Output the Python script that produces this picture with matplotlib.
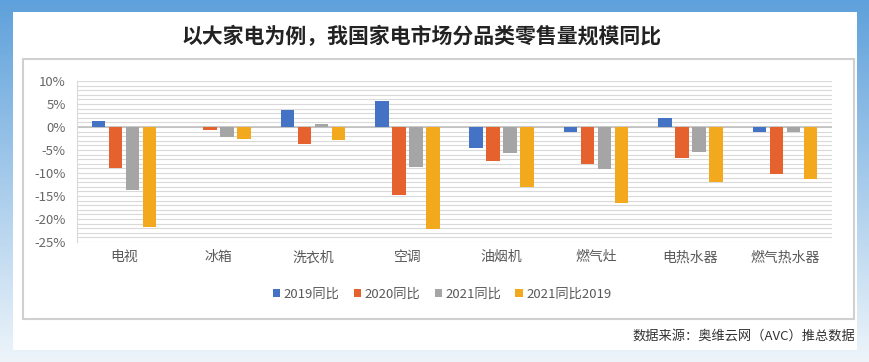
import numpy as np
import matplotlib.pyplot as plt
from matplotlib.patches import Rectangle
from matplotlib.ticker import MultipleLocator, FuncFormatter

plt.rcParams['font.family'] = ['Noto Sans CJK SC', 'DejaVu Sans']

# 数据（单位：%）
categories = ["电视", "冰箱", "洗衣机", "空调", "油烟机", "燃气灶", "电热水器", "燃气热水器"]
series_names = ["2019同比", "2020同比", "2021同比", "2021同比2019"]
yoy_2019 = [1.2, 0.0, 3.8, 5.7, -4.6, -1.1, 1.9, -1.1]
yoy_2020 = [-9.0, -0.6, -3.6, -14.8, -7.4, -8.0, -6.7, -10.3]
yoy_2021 = [-13.8, -2.1, 0.7, -8.6, -5.7, -9.1, -5.5, -1.1]
yoy_2021_vs_2019 = [-21.7, -2.7, -2.8, -22.2, -13.0, -16.5, -11.9, -11.4]
colors = ["#4472C4", "#E5622E", "#A5A5A5", "#F2A91E"]

W, H = 869, 362
fig = plt.figure(figsize=(W / 100, H / 100), dpi=100)

# 背景渐变
bg = fig.add_axes([0, 0, 1, 1])
bg.set_axis_off()
grad = np.linspace(0, 1, 256).reshape(-1, 1)
top = np.array([0.37, 0.63, 0.86])
bot = np.array([0.93, 0.96, 0.98])
img = top[None, None, :] * (1 - grad[:, :, None]) + bot[None, None, :] * grad[:, :, None]
bg.imshow(img, aspect='auto', extent=[0, 1, 0, 1])
bg.set_xlim(0, 1)
bg.set_ylim(0, 1)


def px(x, y, w, h):
    return (x / W, 1 - (y + h) / H, w / W, h / H)


x0, y0, w0, h0 = px(13, 12, 844, 338)
bg.add_patch(Rectangle((x0, y0), w0, h0, facecolor="white", edgecolor="none"))
x1, y1, w1, h1 = px(23, 59, 831, 260)
bg.add_patch(Rectangle((x1, y1), w1, h1, facecolor="white", edgecolor="#D0D0D0", lw=1.5))

fig.text(0.485, 1 - 36 / H, "以大家电为例，我国家电市场分品类零售量规模同比",
         ha="center", va="center", fontsize=15, fontweight="bold", color="#222222")
fig.text(855 / W, 1 - 336 / H, "数据来源：奥维云网（AVC）推总数据",
         ha="right", va="center", fontsize=9.5, color="#333333")

ax = fig.add_axes([77 / W, 1 - 242 / H, (832 - 77) / W, (242 - 81) / H])
x = np.arange(len(categories))
pitch = 0.18
width = 0.143
all_series = [yoy_2019, yoy_2020, yoy_2021, yoy_2021_vs_2019]
handles = []
for i, (vals, c, name) in enumerate(zip(all_series, colors, series_names)):
    b = ax.bar(x + (i - 1.5) * pitch, vals, width, color=c, label=name, zorder=3)
    handles.append(b)

ax.set_xlim(-0.5, len(categories) - 0.5)
ax.set_ylim(-25, 10)
ax.yaxis.set_major_locator(MultipleLocator(5))
ax.yaxis.set_minor_locator(MultipleLocator(1))
ax.yaxis.set_major_formatter(FuncFormatter(lambda v, p: f"{v:.0f}%"))
ax.grid(axis="y", which="both", color="#D9D9D9", lw=0.8, zorder=0)
ax.axhline(0, color="#BFBFBF", lw=1.2, zorder=2)

for s in ["top", "right", "bottom"]:
    ax.spines[s].set_visible(False)
ax.spines["left"].set_color("#D9D9D9")
ax.tick_params(axis="y", which="both", length=0, labelsize=9.5, labelcolor="#666666", pad=8)
ax.tick_params(axis="x", length=0, labelsize=10, labelcolor="#595959", pad=6)
ax.set_xticks(x)
ax.set_xticklabels(categories)

fig.legend(handles=handles, labels=series_names, loc="center", ncol=4,
           bbox_to_anchor=(442 / W, 1 - 294 / H), frameon=False, fontsize=9.5,
           labelcolor="#595959", handlelength=0.55, handleheight=0.55,
           handletextpad=0.25, columnspacing=1.1)

fig.savefig("out.png", dpi=100)
